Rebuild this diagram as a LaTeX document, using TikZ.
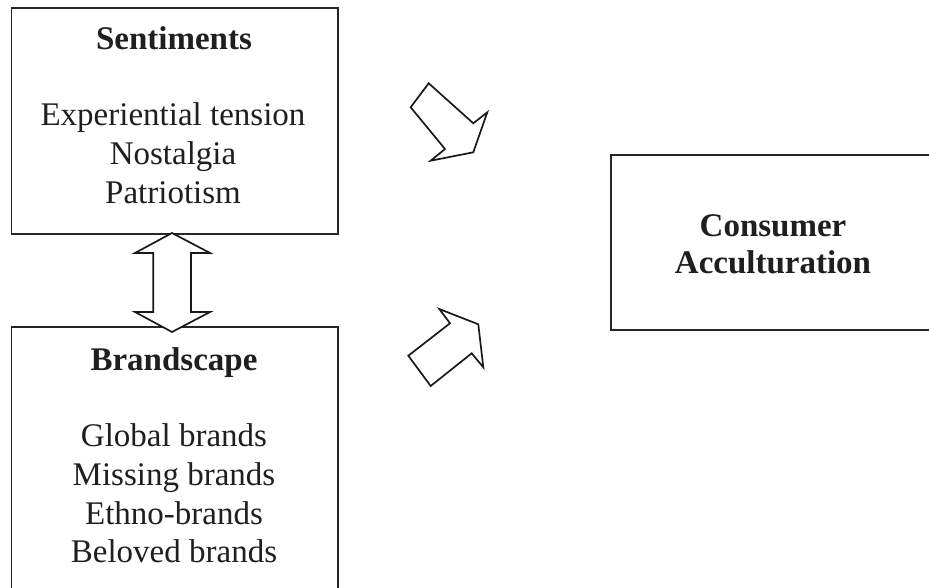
\documentclass[tikz,border=0pt]{standalone}
\usepackage{fontspec}
\setmainfont{Liberation Serif}
\begin{document}
\begin{tikzpicture}[x=1pt,y=-1pt,
  box/.style={draw=black!85, line width=1.8pt, inner sep=0pt, outer sep=0pt, anchor=north west},
  label/.style={anchor=base, inner sep=0pt, text=black!88, font=\fontsize{33}{38.5}\selectfont},
  title/.style={label, font=\fontsize{33}{38.5}\selectfont\bfseries},
  blockarrow/.style={draw=black!90, line width=1.7pt, line join=miter, fill=white}]
\clip (0,0) rectangle (929,588);
\fill[white] (0,0) rectangle (929,588);

% the three boxes
\node[box, minimum width=326.5pt, minimum height=226pt] (sent) at (11.5,8) {};
\node[box, minimum width=326.5pt, minimum height=293pt] (brand) at (11.5,327) {};
\node[box, minimum width=324pt, minimum height=175pt] (acc) at (611,155) {};

% Sentiments
\node[title] (senttitle) at (174,50) {Sentiments};
\node[label] (s1) at (173,126) {Experiential tension};
\node[label] (s2) at (173,165) {Nostalgia};
\node[label] (s3) at (173,203.5) {Patriotism};

% Brandscape
\node[title] (brandtitle) at (174,370) {Brandscape};
\node[label] (b1) at (174,446.5) {Global brands};
\node[label] (b2) at (174,485.5) {Missing brands};
\node[label] (b3) at (174,524) {Ethno-brands};
\node[label] (b4) at (174,562) {Beloved brands};

% Consumer Acculturation
\node[title] (acc1) at (773,236.7) {Consumer};
\node[title] (acc2) at (773,273.3) {Acculturation};

% double-headed block arrow between the two left boxes
\draw[blockarrow] (172,233) -- (210,253) -- (191,253) -- (191,312) -- (210,312)
  -- (172,332) -- (135,312) -- (153.3,312) -- (153.3,253) -- (135,253) -- cycle;

% block arrow pointing down-right
\draw[blockarrow] (428.7,83.3) -- (473.3,123.3) -- (487.3,112.3) -- (473.3,152.3)
  -- (430.7,160.7) -- (445,149) -- (410.7,107.3) -- cycle;

% block arrow pointing up-right
\draw[blockarrow] (439.3,309) -- (478.3,324.3) -- (483.3,367.3) -- (471.7,353.3)
  -- (430.7,386) -- (408.3,355.7) -- (450,323.3) -- cycle;
\end{tikzpicture}
\end{document}
